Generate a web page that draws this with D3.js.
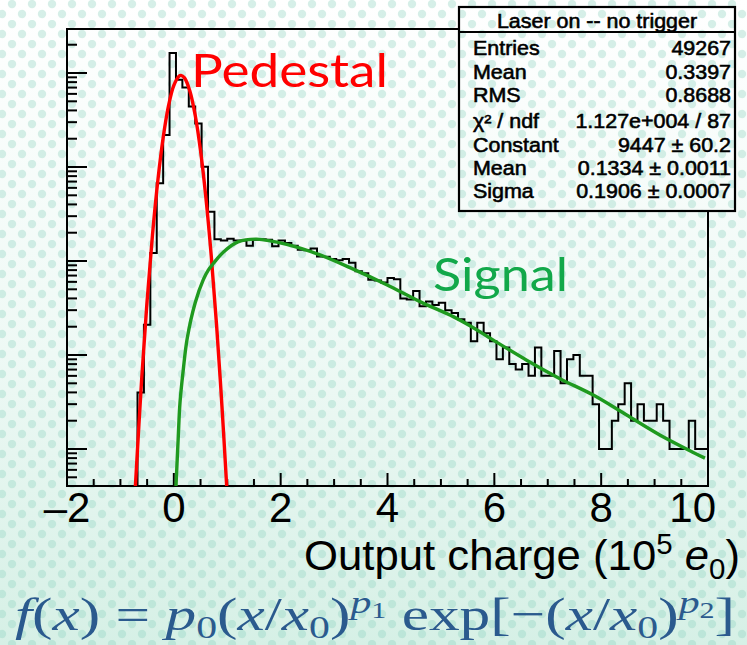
<!DOCTYPE html>
<html><head><meta charset="utf-8">
<script src="https://cdn.jsdelivr.net/npm/d3@7"></script>
<style>html,body{margin:0;padding:0;background:#fff;} svg{display:block;}</style>
</head><body>
<svg id="chart" width="747" height="645"></svg>
<script>
// ---------------- data ----------------
const binStart = -2, binWidth = 0.12;   // 100 bins from -2 to 10
const counts = [
  0,0,0,0,0,0,0,0,0,0,0,
  4,21,122,671,2190,16300,8500,7000,4400,2900,1007,334,
  170,165,172,165,165,145,168,170,168,144,165,155,145,132,130,136,112,111,
  105,102,105,96,78,74,63,62,59,66,64,40,39,48,33,37,34,36,30,28,24,22,
  14,22,17,14,9,12,8,7,8,6,12,6,6,11,5,9,10,6,6,3,1,1,2,3,5,2,3,2,2,3,2,
  1,1,1,2,1,1
];
const pedestalFit = [[-0.72,0.40],[-0.6,5.8],[-0.5,38],[-0.4,189],[-0.3,712],[-0.2,2047],[-0.1,4468],
  [0,7394],[0.1,9303],[0.133,9447],[0.2,8888],[0.3,6447],[0.4,3550],[0.5,1487],[0.6,472],[0.7,114],
  [0.8,20.8],[0.9,2.9],[0.99,0.40]];
const signalFit = [[0.04,0.40],[0.083,1.35],[0.115,3.1],[0.177,7.0],[0.25,15],[0.40,36],[0.55,63],
  [0.645,80],[0.739,94],[0.93,125],[1.201,160],[1.551,171],[2.113,150],[2.736,116],[3.359,82],
  [3.985,56],[4.608,37],[5.231,25.6],[5.544,20.5],[5.98,14.4],[6.605,8.8],[7.229,5.6],[7.852,3.75],
  [8.477,2.3],[9.089,1.42],[9.724,0.92],[9.943,0.8]];
const xTickValues = [-2,0,2,4,6,8,10];
const xTickLabels = ["\u20132","0","2","4","6","8","10"];
const statTitle = "Laser on -- no trigger";
const statLabels = ["Entries","Mean","RMS","\u03c7\u00b2 / ndf","Constant","Mean","Sigma"];
const statValues = ["49267","0.3397","0.8688","1.127e+004 / 87","9447 \u00b1 60.2","0.1334 \u00b1 0.0011","0.1906 \u00b1 0.0007"];

// ---------------- layout ----------------
const W = 747, H = 645;
const F = {left:67, right:708, top:29, bottom:486};
const svg = d3.select("#chart");
const defs = svg.append("defs");
const grad = defs.append("linearGradient").attr("id","bg").attr("gradientUnits","userSpaceOnUse")
  .attr("x1",0).attr("y1",0).attr("x2",0).attr("y2",H);
grad.append("stop").attr("offset","0%").attr("stop-color","#ffffff");
grad.append("stop").attr("offset","55%").attr("stop-color","#eef9f5");
grad.append("stop").attr("offset","100%").attr("stop-color","#d6f0e6");
const pat = defs.append("pattern").attr("id","dots").attr("patternUnits","userSpaceOnUse")
  .attr("width",20).attr("height",20);
[[12,4],[2,14],[22,14]].forEach(([cx,cy])=>pat.append("circle").attr("cx",cx).attr("cy",cy).attr("r",4.2)
  .attr("fill","rgba(140,212,190,0.36)"));
defs.append("clipPath").attr("id","plotclip").append("rect")
  .attr("x",F.left).attr("y",F.top).attr("width",F.right-F.left).attr("height",F.bottom-F.top);

function bgRect(g,x,y,w,h){
  g.append("rect").attr("x",x).attr("y",y).attr("width",w).attr("height",h).attr("fill","url(#bg)");
  g.append("rect").attr("x",x).attr("y",y).attr("width",w).attr("height",h).attr("fill","url(#dots)");
}
bgRect(svg,0,0,W,H);

const x = d3.scaleLinear().domain([-2,10]).range([F.left,F.right]);
const y = d3.scaleLog().domain([0.404,29400]).range([F.bottom,F.top]);

// frame
svg.append("rect").attr("x",F.left).attr("y",F.top).attr("width",F.right-F.left).attr("height",F.bottom-F.top)
  .attr("fill","none").attr("stroke","#000").attr("stroke-width",2);

// y ticks
y.ticks().forEach(v=>{
  const major = Math.abs(Math.log10(v)-Math.round(Math.log10(v)))<1e-9;
  svg.append("line").attr("x1",F.left).attr("x2",F.left+(major?20:10))
    .attr("y1",y(v)).attr("y2",y(v)).attr("stroke","#000").attr("stroke-width",2);
});
// x ticks
d3.range(-2,10.001,0.5).forEach(v=>{
  const major = Math.abs(v/2-Math.round(v/2))<1e-9;
  svg.append("line").attr("x1",x(v)).attr("x2",x(v))
    .attr("y1",F.bottom).attr("y2",F.bottom-(major?13:7)).attr("stroke","#000").attr("stroke-width",2);
});

// histogram
const plot = svg.append("g").attr("clip-path","url(#plotclip)");
const first = counts.findIndex(c=>c>0);
const pts = [[x(binStart+first*binWidth),F.bottom]];
for(let i=first;i<counts.length;i++){
  const x0 = x(binStart+i*binWidth), x1 = x(binStart+(i+1)*binWidth);
  const yy = counts[i]>0 ? y(counts[i]) : F.bottom;
  pts.push([x0,yy],[x1,yy]);
}
plot.append("path").attr("d",d3.line()(pts)).attr("fill","none").attr("stroke","#000").attr("stroke-width",2);

const fitLine = d3.line().x(d=>x(d[0])).y(d=>y(d[1])).curve(d3.curveCatmullRom.alpha(0.5));
plot.append("path").attr("d",fitLine(pedestalFit)).attr("fill","none").attr("stroke","#ff0000").attr("stroke-width",3.4);
plot.append("path").attr("d",fitLine(signalFit)).attr("fill","none").attr("stroke","#1f9a1f").attr("stroke-width",3.4);

// stats box
const B = {x0:459,x1:735,y0:7,y1:211,sep:32};
const box = svg.append("g");
bgRect(box,B.x0,B.y0,B.x1-B.x0,B.y1-B.y0);
box.append("rect").attr("x",B.x0).attr("y",B.y0).attr("width",B.x1-B.x0).attr("height",B.y1-B.y0)
  .attr("fill","none").attr("stroke","#000").attr("stroke-width",2.2);
box.append("line").attr("x1",B.x0).attr("x2",B.x1).attr("y1",B.sep).attr("y2",B.sep).attr("stroke","#000").attr("stroke-width",2.2);
function stxt(g,tx,ty,str,anchor,size,sx){
  return g.append("g").attr("transform",`translate(${tx},${ty}) scale(${sx},1)`)
    .append("text").attr("text-anchor",anchor).attr("font-family","Liberation Sans, Arial, sans-serif")
    .attr("font-size",size).attr("fill","#000").attr("stroke","#000").attr("stroke-width",0.55).text(str);
}
stxt(box,(B.x0+B.x1)/2,28,statTitle,"middle",19.5,1.1);
const rowY = [55,79,102,128,152,175,198];
statLabels.forEach((s,i)=>stxt(box,473,rowY[i],s,"start",19.5,1.1));
statValues.forEach((s,i)=>stxt(box,731,rowY[i],s,"end",19.5,1.1));

// axis labels
xTickValues.forEach((v,i)=>{
  const last = i===xTickValues.length-1;
  svg.append("text").attr("x",last?716:x(v)).attr("y",522).attr("text-anchor",last?"end":"middle")
    .attr("font-family","Liberation Sans, Arial, sans-serif").attr("font-size",42).attr("fill","#000")
    .text(xTickLabels[i]);
});
const at = svg.append("text").attr("x",740).attr("y",570).attr("text-anchor","end")
  .attr("font-family","Liberation Sans, Arial, sans-serif").attr("font-size",43).attr("fill","#000")
  .attr("textLength",436).attr("lengthAdjust","spacingAndGlyphs");
at.append("tspan").text("Output charge (10");
at.append("tspan").attr("dy",-16).attr("font-size",29).text("5");
at.append("tspan").attr("dy",16).text(" ");
at.append("tspan").attr("font-style","italic").text("e");
at.append("tspan").attr("dy",9).attr("font-size",29).text("0");
at.append("tspan").attr("dy",-9).text(")");

// annotations
svg.append("text").attr("x",191).attr("y",87).attr("font-family","Lato, sans-serif").attr("font-size",46)
  .attr("fill","#ff0000").attr("textLength",197).attr("lengthAdjust","spacingAndGlyphs").text("Pedestal");
svg.append("text").attr("x",433).attr("y",291).attr("font-family","Lato, sans-serif").attr("font-size",46)
  .attr("fill","#12a84a").attr("textLength",135).attr("lengthAdjust","spacingAndGlyphs").text("Signal");

// formula
const fm = svg.append("text").attr("x",15).attr("y",630).attr("font-family","Liberation Serif, serif")
  .attr("font-size",47).attr("fill","#2b5a8e").attr("textLength",720).attr("lengthAdjust","spacingAndGlyphs");
const it = (t)=>fm.append("tspan").attr("font-style","italic").text(t);
const rm = (t)=>fm.append("tspan").text(t);
it("f"); rm("("); it("x"); rm(") = "); it("p");
fm.append("tspan").attr("dy",8).attr("font-size",32).text("0");
fm.append("tspan").attr("dy",-8).text("(");
it("x"); rm("/"); it("x");
fm.append("tspan").attr("dy",8).attr("font-size",32).text("0");
fm.append("tspan").attr("dy",-8).text(")");
fm.append("tspan").attr("dy",-17).attr("font-size",32).attr("font-style","italic").text("p");
fm.append("tspan").attr("dy",5).attr("font-size",23).text("1");
fm.append("tspan").attr("dy",12).text(" exp[\u2212(");
it("x"); rm("/"); it("x");
fm.append("tspan").attr("dy",8).attr("font-size",32).text("0");
fm.append("tspan").attr("dy",-8).text(")");
fm.append("tspan").attr("dy",-17).attr("font-size",32).attr("font-style","italic").text("p");
fm.append("tspan").attr("dy",5).attr("font-size",23).text("2");
fm.append("tspan").attr("dy",12).text("]");
</script>
</body></html>
